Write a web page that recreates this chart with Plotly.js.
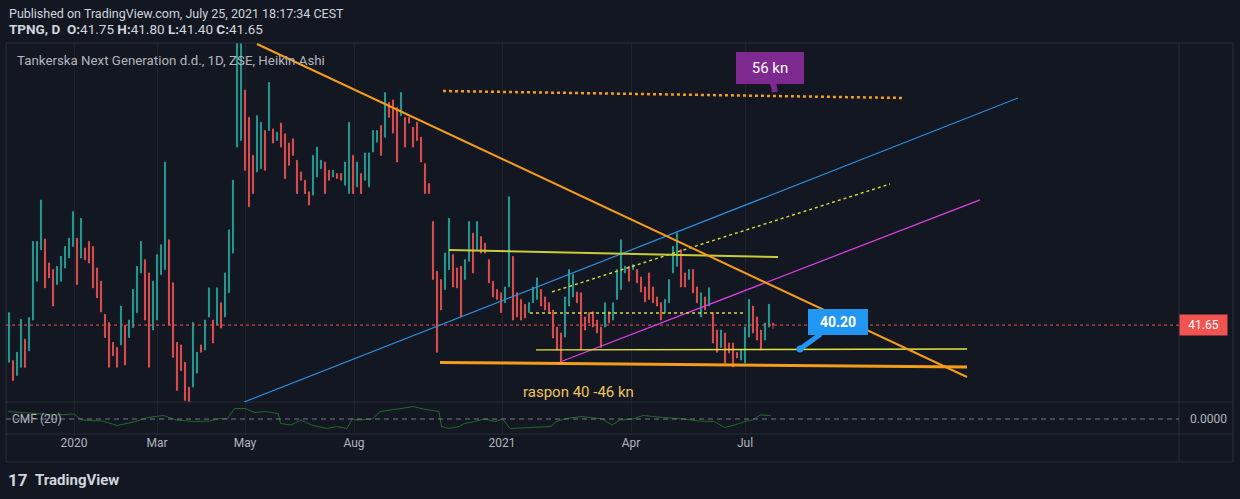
<!DOCTYPE html>
<html><head><meta charset="utf-8">
<script src="https://cdn.plot.ly/plotly-3.0.1.min.js"></script>
<style>html,body{margin:0;padding:0;background:#131722;overflow:hidden}#chart{width:1240px;height:499px}</style>
</head><body><div id="chart"></div>
<script>
// Heikin Ashi bars (TPNG, daily), one bar every second session; price in kn
const barHigh = [
42.4,39.5,40.0,42.0,40.8,42.1,46.7,46.7,49.2,46.85,
45.4,45.0,45.2,45.8,46.4,46.9,48.5,46.9,48.1,46.3,
46.7,46.4,45.1,44.3,42.3,41.8,40.6,40.3,42.8,41.65,
41.95,43.8,45.2,46.7,45.6,44.8,44.3,45.9,46.5,51.5,
46.8,44.2,40.6,40.45,39.4,37.9,41.8,40.0,40.45,41.95,
43.9,41.95,43.9,43.0,44.8,47.4,50.4,58.7,58.7,55.85,
54.2,51.9,54.3,53.9,53.4,56.3,53.5,53.3,53.85,53.2,
52.65,52.9,51.6,50.9,50.4,49.7,51.9,52.4,51.6,51.5,
51.0,51.0,50.8,50.8,51.5,53.9,51.9,51.5,50.8,52.05,
52.05,53.4,53.4,53.7,55.7,55.1,55.25,54.8,55.7,54.2,
54.2,53.6,53.9,53.0,51.4,50.2,47.9,44.9,44.4,46.0,
48.1,45.9,45.1,45.2,45.6,47.9,47.2,47.9,47.0,46.6,
45.6,44.3,43.8,43.6,43.95,49.4,45.8,43.6,43.2,42.9,
43.0,43.95,44.5,43.8,43.35,43.0,42.56,41.53,41.17,43.35,
45.0,44.7,43.65,43.6,42.14,42.4,42.45,41.95,41.53,43.0,
42.45,43.0,45.0,46.8,45.2,45.2,45.3,45.0,44.55,43.95,
44.8,43.95,43.35,43.0,43.2,44.4,46.4,47.2,46.2,44.8,
45.0,45.0,43.95,43.6,43.35,43.9,42.4,41.35,41.35,41.17,
40.57,40.57,40.0,40.14,41.53,43.2,42.8,42.14,41.35,41.77,
42.9,41.8];
const barLow = [
39.4,38.3,38.6,39.1,39.1,40.1,41.95,44.3,46.2,43.9,
44.5,42.8,44.1,44.3,45.1,45.7,46.4,44.1,45.7,45.6,
45.4,43.9,43.3,42.45,40.9,39.1,39.8,39.1,40.45,39.24,
40.9,41.5,42.4,44.8,41.95,39.1,41.35,41.95,44.7,45.0,
41.65,39.7,37.7,38.9,37.1,37.0,37.9,38.75,40.0,40.14,
42.14,40.57,41.65,41.47,42.14,43.6,46.0,52.4,52.8,51.0,
48.8,49.6,50.9,51.1,51.0,53.4,52.65,52.8,52.4,50.5,
51.3,51.9,49.6,50.4,49.6,48.9,49.5,50.6,51.1,49.6,
50.4,50.6,50.5,50.4,50.1,49.6,49.6,50.0,49.6,50.4,
50.0,52.1,52.7,51.9,53.0,54.2,53.25,51.5,54.3,52.4,
53.85,52.4,52.8,51.5,49.6,49.6,44.4,40.0,42.56,43.8,
45.0,43.95,43.9,42.14,44.4,45.5,44.8,46.2,46.0,46.0,
44.2,43.35,43.2,42.4,43.0,43.95,41.95,42.14,41.95,42.08,
42.4,43.0,43.2,42.8,42.56,42.45,40.87,40.14,39.36,40.93,
42.8,43.35,43.0,40.14,41.35,41.77,41.53,41.17,40.3,41.53,
41.77,41.95,43.2,43.8,44.8,44.3,45.0,44.2,43.65,43.05,
43.2,43.0,42.8,41.95,42.4,43.0,44.8,45.2,43.95,43.95,
44.4,43.6,43.0,42.14,42.56,42.8,40.57,40.0,40.3,39.36,
39.96,39.12,39.66,39.54,39.36,40.93,41.17,40.75,40.14,40.75,
41.53,41.4];
const barUp = [
1,0,1,1,0,1,1,1,1,0,
0,0,1,1,1,1,1,0,1,0,
0,0,0,0,0,0,0,0,1,0,
1,1,1,1,0,0,1,1,1,1,
0,0,0,0,0,0,1,1,0,1,
1,0,1,0,1,1,1,1,1,0,
0,0,1,1,0,1,0,1,0,0,
0,0,0,0,0,0,1,1,1,0,
0,1,0,0,1,1,0,1,0,1,
1,1,1,0,1,0,0,0,1,0,
0,0,0,0,0,0,0,0,0,1,
1,0,0,0,1,1,0,1,0,0,
0,0,0,0,1,1,0,0,0,0,
1,1,1,0,0,0,0,0,0,1,
1,1,0,0,0,0,0,0,0,1,
0,1,1,1,1,0,1,0,0,0,
0,0,0,0,1,1,1,1,0,0,
1,0,0,1,0,1,0,0,1,0,
0,0,0,1,1,1,0,0,0,1,
1,0];
// last (current) bar from the header
const lastOpen = 41.75, lastHigh = 41.80, lastLow = 41.40, lastClose = 41.65;

// time axis labels (bar positions)
const tickPos = [16.25, 37, 59, 86.25, 123.25, 155.5, 184];
const tickText = ['2020', 'Mar', 'May', 'Aug', '2021', 'Apr', 'Jul'];

// Chaikin Money Flow (20)
const cmfX = [-0.3,2.9,7.3,11.8,16.2,18.2,23.3,27.1,31.6,34.7,38.6,41.8,46.2,50.1,52.6,54.5,56.4,59.0,61.5,64.1,67.3,67.9,70.5,73.0,75.6,79.4,81.9,84.5,85.8,87.0,90.9,92.8,97.2,101.1,103.6,107.5,108.1,110.0,112.6,113.8,116.4,118.9,121.5,123.4,125.3,130.4,135.5,136.8,139.3,143.2,148.3,150.8,152.7,155.9,158.5,163.6,168.7,172.5,176.3,178.9,181.4,184.0,185.9,187.8,190.4];
const cmfVal = [0.15,0.13,0.11,0.08,0.10,-0.02,-0.04,-0.13,-0.05,0.03,0.07,-0.02,-0.05,-0.04,0.01,0.0,0.21,0.21,0.13,0.15,0.11,-0.09,-0.12,-0.02,-0.12,-0.19,-0.15,-0.19,0.0,-0.02,0.0,0.15,0.20,0.25,0.20,0.15,-0.15,-0.19,-0.15,-0.09,-0.05,0.0,-0.05,0.0,-0.19,-0.17,-0.15,-0.05,0.01,0.05,0.0,-0.12,-0.02,0.0,0.07,0.03,0.0,-0.04,-0.05,-0.17,-0.12,-0.05,-0.02,0.08,0.07];

// drawings: [bar0, price0, bar1, price1]
const downTrend    = [62, 58.63, 239.5, 38.51];
const supportLine  = [107.75, 39.39, 239.5, 39.12];
const rangeTop     = [110, 46.18, 192.25, 45.76];
const rangeBottom  = [131.75, 40.15, 239.5, 40.2];
const midDotted    = [130.25, 42.38, 184, 42.38];
const risingDotted = [135.75, 43.65, 220.25, 50.17];
const blueChannel  = [58.75, 37.0, 252.25, 55.37];
const magentaLine  = [137.75, 39.42, 242.75, 49.21];
const targetDotted = [108.5, 55.79, 223.25, 55.37];
// callouts: [bar, price]
const targetNote = [191.5, 55.73];   // "56 kn"
const levelNote  = [197.75, 40.2];   // "40.20"
const rangeNote  = [142.25, 37.6];   // "raspon 40 -46 kn"

const n = barHigh.length;
const xs = barHigh.map((_, i) => i);
const open = [], close = [], high = [], low = [];
for (let i = 0; i < n; i++) {
  if (i === n - 1) { open.push(lastOpen); close.push(lastClose); high.push(lastHigh); low.push(lastLow); continue; }
  high.push(barHigh[i]); low.push(barLow[i]);
  if (barUp[i]) { open.push(barLow[i]); close.push(barHigh[i]); }
  else { open.push(barHigh[i]); close.push(barLow[i]); }
}

const FONT = 'Roboto, "Liberation Sans", sans-serif';
const GRID = '#1e222d';
const BORDER = '#2a2e39';

function seg(a, color, width, dash) {
  return {type: 'line', xref: 'x', yref: 'y', x0: a[0], y0: a[1], x1: a[2], y1: a[3],
          line: {color: color, width: width, dash: dash || 'solid'}};
}
function pline(x0, y0, x1, y1) {
  return {type: 'line', xref: 'paper', yref: 'paper', x0: x0, y0: y0, x1: x1, y1: y1,
          line: {color: BORDER, width: 1}};
}

const traces = [
  {type: 'candlestick', x: xs, open: open, high: high, low: low, close: close,
   xaxis: 'x', yaxis: 'y', whiskerwidth: 0, hoverinfo: 'skip',
   increasing: {line: {color: '#26a69a', width: 0.8}, fillcolor: '#26a69a'},
   decreasing: {line: {color: '#ef5350', width: 0.8}, fillcolor: '#ef5350'}},
  {type: 'scatter', mode: 'lines', x: cmfX, y: cmfVal, xaxis: 'x', yaxis: 'y2',
   line: {color: '#22692a', width: 1}, hoverinfo: 'skip'}
];

const layout = {
  width: 1240, height: 499,
  margin: {l: 6, r: 61, t: 43, b: 65},
  paper_bgcolor: '#131722', plot_bgcolor: '#131722',
  showlegend: false, hovermode: false, boxgap: 0.6,
  font: {family: FONT, color: '#b2b5be', size: 12},
  xaxis: {range: [-0.75, 292.5], anchor: 'y2', tickvals: tickPos, ticktext: tickText,
          showgrid: true, gridcolor: GRID, gridwidth: 1, zeroline: false, showline: false, ticks: '',
          tickfont: {family: FONT, size: 12, color: '#b2b5be'}, rangeslider: {visible: false}, fixedrange: true},
  yaxis: {domain: [0.0818, 1], range: [37.0, 58.69], anchor: 'x', showticklabels: false,
          showgrid: false, zeroline: false, fixedrange: true},
  yaxis2: {domain: [0, 0.0818], range: [-0.30, 0.34], anchor: 'x', showticklabels: false,
           showgrid: false, zeroline: false, fixedrange: true},
  shapes: [
    pline(0, 1, 1.046, 1), pline(0, 0.0818, 1.046, 0.0818), pline(0, 0, 1.046, 0),
    pline(0, -0.0716, 1.046, -0.0716), pline(0, -0.0716, 0, 1), pline(1, -0.0716, 1, 1),
    pline(1.046, -0.0716, 1.046, 1),
    {type: 'line', xref: 'paper', yref: 'y2', x0: 0, x1: 1, y0: 0, y1: 0,
     line: {color: '#787b86', width: 1, dash: '5px,4px'}},
    {type: 'line', xref: 'paper', yref: 'y', x0: 0, x1: 1, y0: lastClose, y1: lastClose,
     line: {color: '#f05350', width: 1, dash: 'dot'}},
    seg(blueChannel, '#2f8fe0', 1.2),
    seg(magentaLine, '#e040e8', 1.2),
    seg(risingDotted, '#d8dc3a', 1.4, 'dot'),
    seg(midDotted, '#d8dc3a', 1.4, 'dot'),
    seg(rangeTop, '#c9cc3a', 2),
    seg(rangeBottom, '#e2e53c', 1.4),
    seg(targetDotted, '#f59c1a', 2.5, 'dot'),
    seg(supportLine, '#f59c1a', 3),
    seg(downTrend, '#f59c1a', 2)
  ],
  annotations: [
    {xref: 'paper', yref: 'paper', x: 0.00085, y: 1.0767, xanchor: 'left', yanchor: 'middle', showarrow: false,
     text: 'Published on TradingView.com, July 25, 2021 18:17:34 CEST', font: {family: FONT, size: 12.5, color: '#d1d4dc'}},
    {xref: 'paper', yref: 'paper', x: 0.00085, y: 1.0358, xanchor: 'left', yanchor: 'middle', showarrow: false,
     text: '<b>TPNG, D  O:</b>41.75 <b>H:</b>41.80 <b>L:</b>41.40 <b>C:</b>41.65', font: {family: FONT, size: 13.5, color: '#d1d4dc'}},
    {xref: 'paper', yref: 'paper', x: 0.0077, y: 0.9565, xanchor: 'left', yanchor: 'middle', showarrow: false,
     text: 'Tankerska Next Generation d.d., 1D, ZSE, Heikin Ashi', font: {family: FONT, size: 13.3, color: '#b2b5be'}},
    {xref: 'paper', yref: 'y2', x: 0.0034, y: 0, xanchor: 'left', yanchor: 'middle', showarrow: false,
     text: 'CMF (20)', font: {family: FONT, size: 12, color: '#b2b5be'}},
    {xref: 'paper', yref: 'y2', x: 1.0077, y: 0, xanchor: 'left', yanchor: 'middle', showarrow: false,
     text: '0.0000', font: {family: FONT, size: 12, color: '#b2b5be'}},
    {xref: 'paper', yref: 'y', x: 1.0, y: lastClose, xanchor: 'left', yanchor: 'middle', showarrow: false,
     text: lastClose.toFixed(2), bgcolor: '#f05350', borderpad: 3, width: 41, height: 14,
     font: {family: FONT, size: 12, color: '#ffffff'}},
    {xref: 'x', yref: 'y', x: targetNote[0], y: targetNote[1], text: '56 kn', showarrow: true,
     ax: -5, ay: -24, arrowhead: 0, arrowwidth: 6, arrowcolor: '#7e2990', standoff: 0,
     bgcolor: '#7e2990', bordercolor: '#7e2990', borderpad: 5, width: 56, height: 20,
     font: {family: FONT, size: 15, color: '#ffffff'}},
    {xref: 'x', yref: 'y', x: levelNote[0], y: levelNote[1], text: '<b>' + levelNote[1].toFixed(2) + '</b>', showarrow: true,
     ax: 38, ay: -27.5, arrowhead: 6, arrowsize: 0.35, arrowwidth: 5, arrowcolor: '#2196f3', standoff: 0,
     bgcolor: '#2196f3', bordercolor: '#2196f3', borderpad: 4, width: 50, height: 16,
     font: {family: FONT, size: 14, color: '#ffffff'}},
    {xref: 'x', yref: 'y', x: rangeNote[0], y: rangeNote[1], text: 'raspon 40 -46 kn', showarrow: false,
     font: {family: FONT, size: 15, color: '#f0c35e'}},
    {xref: 'paper', yref: 'paper', x: 0, y: -0.1176, xanchor: 'left', yanchor: 'middle', showarrow: false,
     text: '<b>17</b>', font: {family: FONT, size: 17, color: '#d1d4dc'}},
    {xref: 'paper', yref: 'paper', x: 0.023, y: -0.1176, xanchor: 'left', yanchor: 'middle', showarrow: false,
     text: '<b>TradingView</b>', font: {family: FONT, size: 15, color: '#d1d4dc'}}
  ]
};

Plotly.newPlot('chart', traces, layout, {staticPlot: true, displayModeBar: false});
</script>
</body></html>
